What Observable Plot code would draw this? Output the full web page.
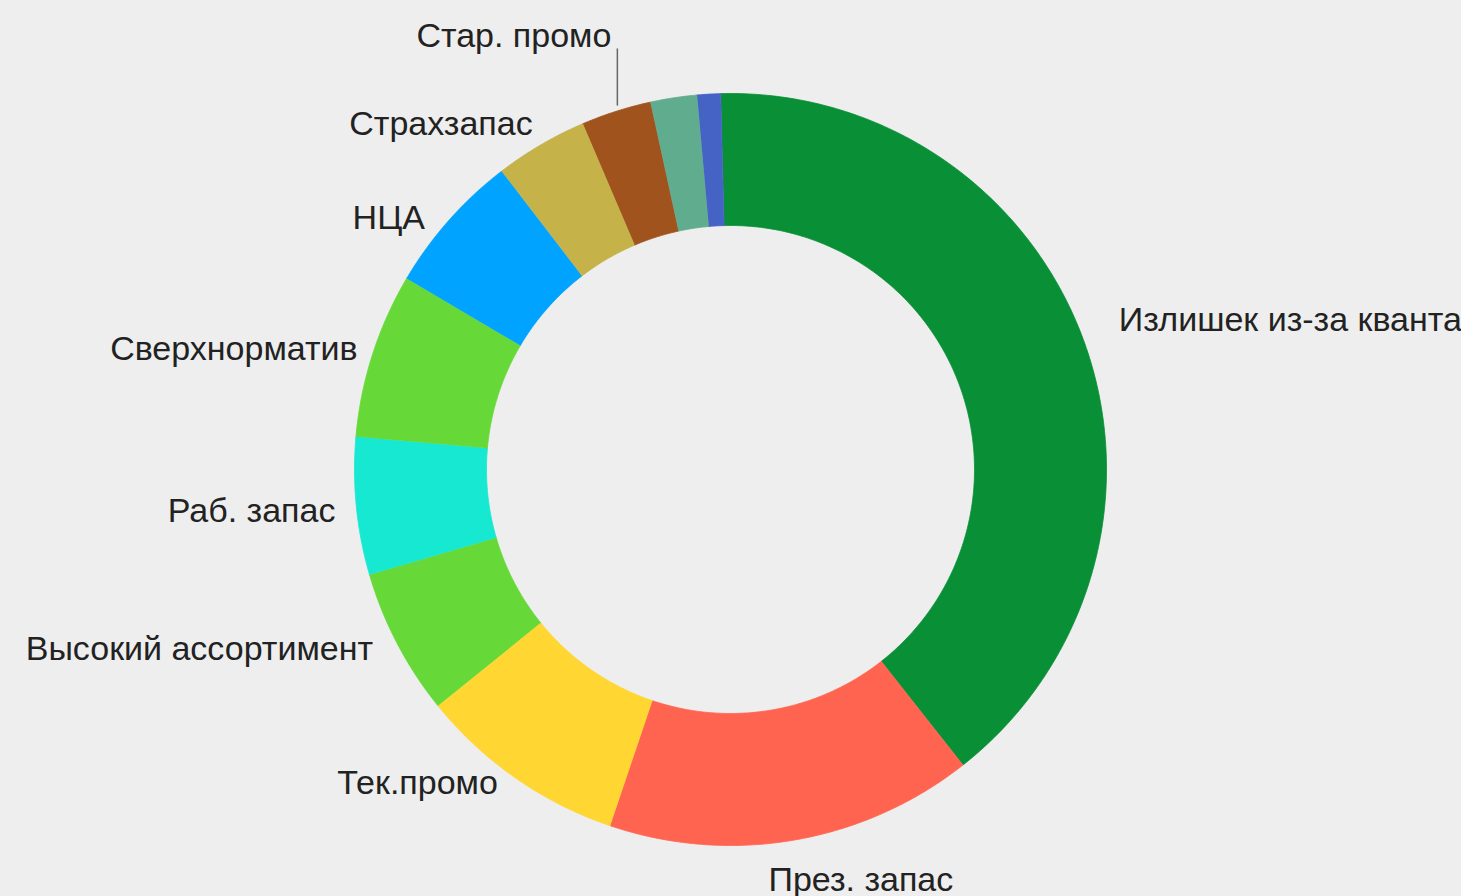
<!DOCTYPE html>
<html><head><meta charset="utf-8">
<script src="https://cdn.jsdelivr.net/npm/d3@7"></script>
<script src="https://cdn.jsdelivr.net/npm/@observablehq/plot@0.6"></script>
<style>html,body{margin:0;padding:0;background:#eeeeee;overflow:hidden} svg{display:block}</style>
</head><body><div id="chart"></div>
<script>
// ---- data ----
const categories = ["Излишек из-за кванта","През. запас","Тек.промо","Высокий ассортимент","Раб. запас","Сверхнорматив","НЦА","Страхзапас","Стар. промо","",""];
const values = [39.8, 15.8, 9.0, 6.3, 5.9, 7.1, 6.1, 4.0, 3.0, 2.0, 1.0];
const colors = ["#098f36","#ff6450","#ffd632","#66d938","#17e8d2","#66d938","#00a3ff","#c5b248","#a0531c","#5fac8e","#4562c5"];
const leaderLabels = ["Стар. промо"];

// ---- layout (label nudges in px, per slice) ----
const W = 1461, H = 896, cx = 730, cy = 469, rOuter = 376, rInner = 244;
const start = -1.5 * Math.PI / 180;
const rLabel = 400;
const labelNudge = [[12,-14],[-30,16],[-4,-15],[-3,-6],[3,2],[8,2],[-6,14],[4,0],[0,0],[0,0],[0,0]];

const arcs = d3.pie().sort(null).startAngle(start).endAngle(start + 2 * Math.PI)(values);
const px = (r, a) => cx + r * Math.sin(a);
const py = (r, a) => cy - r * Math.cos(a);

const pts = [];
arcs.forEach((d, i) => {
  const n = Math.max(4, Math.ceil((d.endAngle - d.startAngle) * 80));
  for (let k = 0; k <= n; k++) { const a = d.startAngle + (d.endAngle - d.startAngle) * k / n; pts.push({i, color: colors[i], x: px(rOuter, a), y: py(rOuter, a)}); }
  for (let k = n; k >= 0; k--) { const a = d.startAngle + (d.endAngle - d.startAngle) * k / n; pts.push({i, color: colors[i], x: px(rInner, a), y: py(rInner, a)}); }
});

const labels = arcs.map((d, i) => {
  const m = (d.startAngle + d.endAngle) / 2;
  return {text: categories[i], m, x: px(rLabel, m) + labelNudge[i][0], y: py(rLabel, m) + labelNudge[i][1], right: Math.sin(m) >= 0};
}).filter(d => d.text);

const plain = labels.filter(d => !leaderLabels.includes(d.text));
const leader = labels.filter(d => leaderLabels.includes(d.text)).map(d => {
  const x = px(rOuter + 6, d.m) + 3;
  return {text: d.text, x1: x, y1: py(rOuter + 6, d.m), x2: x, y2: cy - rOuter - 45};
});

const font = "'Liberation Sans', Arial, Helvetica, sans-serif";
const chart = Plot.plot({
  width: W, height: H,
  margin: 0,
  x: {type: "linear", domain: [0, W], range: [0, W], axis: null},
  y: {type: "linear", domain: [0, H], range: [0, H], axis: null},
  style: {background: "#eeeeee", fontFamily: font},
  marks: [
    Plot.line(pts, {x: "x", y: "y", z: "i", fill: "color", stroke: "color", strokeWidth: 0.8, curve: "linear"}),
    Plot.text(plain.filter(d => d.right), {x: "x", y: "y", text: "text", textAnchor: "start", fontSize: 34, fill: "#222"}),
    Plot.text(plain.filter(d => !d.right), {x: "x", y: "y", text: "text", textAnchor: "end", fontSize: 34, fill: "#222"}),
    Plot.link(leader, {x1: "x1", y1: "y1", x2: "x2", y2: "y2", stroke: "#666", strokeWidth: 1.5}),
    Plot.text(leader, {x: "x2", y: "y2", text: "text", textAnchor: "end", fontSize: 34, fill: "#222", dx: -6, dy: -12})
  ]
});
document.getElementById("chart").append(chart);
</script>
</body></html>
